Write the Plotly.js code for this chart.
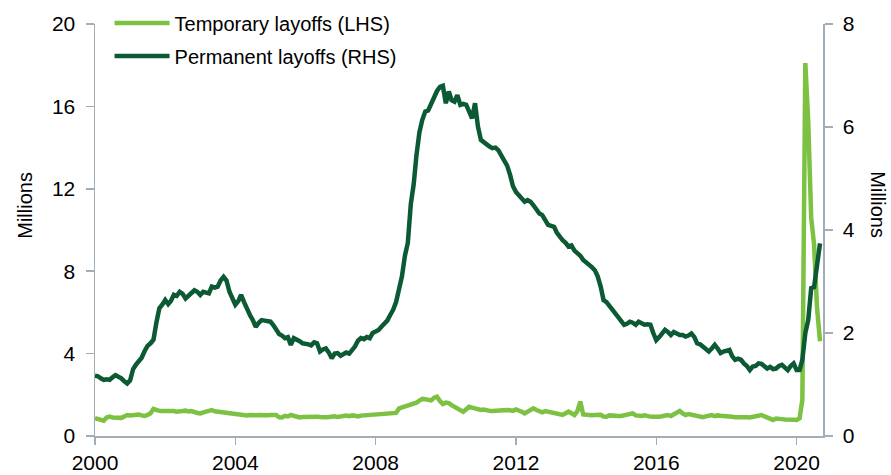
<!DOCTYPE html>
<html>
<head>
<meta charset="utf-8">
<script src="https://cdn.plot.ly/plotly-3.0.1.min.js"></script>
<style>html,body{margin:0;padding:0;background:#fff;}#chart{width:891px;height:475px;}</style>
</head>
<body>
<div id="chart"></div>
<script>
// Monthly series, Jan 2000 - Sep 2020 (millions)
const startYear = 2000;
const temporary = [
  0.86, 0.82, 0.80, 0.74, 0.90, 0.94, 0.90, 0.88, 0.86, 0.88, 0.95, 1.02,
  1.00, 1.02, 1.05, 1.04, 1.00, 0.97, 1.02, 1.10, 1.31, 1.25, 1.22, 1.21,
  1.21, 1.24, 1.20, 1.21, 1.18, 1.22, 1.21, 1.23, 1.19, 1.21, 1.15, 1.12,
  1.10, 1.12, 1.18, 1.22, 1.26, 1.20, 1.18, 1.15, 1.13, 1.12, 1.08, 1.07,
  1.05, 1.07, 1.04, 1.02, 1.00, 1.02, 1.04, 1.01, 1.02, 1.00, 1.02, 1.01,
  1.02, 1.00, 1.02, 0.91, 0.90, 0.98, 0.95, 1.02, 0.98, 0.91, 0.90, 0.92,
  0.93, 0.92, 0.91, 0.93, 0.94, 0.92, 0.94, 0.91, 0.92, 0.95, 0.96, 0.92,
  0.95, 0.97, 0.99, 0.96, 1.00, 0.98, 0.95, 0.99, 1.00, 0.97, 0.99, 1.02,
  1.00, 1.05, 1.07, 1.04, 1.08, 1.10, 1.10, 1.12, 1.34, 1.38, 1.45, 1.50,
  1.50, 1.55, 1.62, 1.72, 1.80, 1.78, 1.75, 1.73, 1.86, 1.91, 1.70, 1.55,
  1.62, 1.60, 1.50, 1.42, 1.35, 1.28, 1.18, 1.30, 1.42, 1.38, 1.34, 1.30,
  1.26, 1.28, 1.24, 1.22, 1.21, 1.23, 1.20, 1.22, 1.24, 1.26, 1.25, 1.22,
  1.29, 1.25, 1.18, 1.10, 1.20, 1.28, 1.34, 1.26, 1.18, 1.15, 1.21, 1.18,
  1.16, 1.15, 1.10, 1.05, 1.02, 1.10, 1.18, 1.10, 1.02, 1.20, 1.67, 1.05,
  1.02, 1.04, 1.01, 1.02, 1.00, 1.03, 0.95, 0.94, 1.00, 0.98, 0.94, 0.97,
  0.97, 1.00, 1.04, 1.08, 1.10, 1.00, 0.98, 0.97, 1.00, 0.95, 0.94, 0.93,
  0.91, 0.93, 0.96, 0.98, 1.02, 0.97, 1.05, 1.12, 1.21, 1.10, 1.02, 1.06,
  1.02, 0.98, 0.96, 0.94, 0.91, 0.95, 0.98, 1.02, 0.96, 1.00, 0.98, 0.98,
  0.97, 0.95, 0.93, 0.91, 0.92, 0.90, 0.92, 0.91, 0.90, 0.92, 0.95, 0.98,
  1.02, 0.95, 0.90, 0.83, 0.78, 0.85, 0.86, 0.82, 0.80, 0.78, 0.80, 0.79,
  0.78, 0.86, 1.75, 18.1, 15.3, 10.6, 9.3, 6.2, 4.6
];
const permanent = [
  1.17, 1.16, 1.12, 1.09, 1.10, 1.09, 1.14, 1.18, 1.15, 1.12, 1.06, 1.02,
  1.08, 1.30, 1.38, 1.45, 1.52, 1.65, 1.75, 1.80, 1.87, 2.20, 2.48, 2.55,
  2.64, 2.56, 2.62, 2.74, 2.72, 2.80, 2.76, 2.67, 2.72, 2.76, 2.83, 2.80,
  2.74, 2.80, 2.78, 2.77, 2.90, 2.88, 2.90, 3.02, 3.09, 3.02, 2.80, 2.66,
  2.55, 2.62, 2.74, 2.60, 2.45, 2.35, 2.25, 2.12, 2.20, 2.25, 2.24, 2.22,
  2.22, 2.15, 2.05, 1.98, 1.95, 1.90, 1.92, 1.77, 1.90, 1.88, 1.84, 1.80,
  1.80, 1.78, 1.76, 1.82, 1.80, 1.64, 1.68, 1.70, 1.62, 1.51, 1.60, 1.61,
  1.56, 1.58, 1.62, 1.60, 1.66, 1.74, 1.85, 1.90, 1.88, 1.92, 1.90, 2.00,
  2.03, 2.06, 2.12, 2.19, 2.24, 2.35, 2.45, 2.60, 2.85, 3.10, 3.50, 3.75,
  4.50, 4.90, 5.45, 5.90, 6.14, 6.30, 6.32, 6.45, 6.59, 6.70, 6.78, 6.80,
  6.46, 6.69, 6.52, 6.49, 6.62, 6.43, 6.45, 6.43, 6.30, 6.17, 6.46, 6.01,
  5.75, 5.70, 5.68, 5.62, 5.59, 5.60, 5.55, 5.45, 5.36, 5.25, 5.07, 4.85,
  4.74, 4.68, 4.60, 4.55, 4.58, 4.55, 4.48, 4.40, 4.32, 4.29, 4.18, 4.10,
  4.08, 4.06, 3.95, 3.87, 3.80, 3.75, 3.68, 3.70, 3.60, 3.55, 3.50, 3.42,
  3.38, 3.32, 3.28, 3.22, 3.10, 2.90, 2.64, 2.60, 2.52, 2.45, 2.38, 2.30,
  2.22, 2.16, 2.18, 2.22, 2.20, 2.16, 2.22, 2.18, 2.16, 2.17, 2.16, 2.00,
  1.86, 1.92, 2.00, 2.06, 2.02, 1.96, 2.02, 1.98, 1.96, 1.96, 1.93, 1.95,
  1.99, 1.92, 1.80, 1.78, 1.73, 1.70, 1.64, 1.70, 1.77, 1.70, 1.61, 1.64,
  1.66, 1.67, 1.55, 1.48, 1.50, 1.48, 1.41, 1.36, 1.28, 1.35, 1.36, 1.41,
  1.40, 1.35, 1.31, 1.34, 1.30, 1.31, 1.36, 1.38, 1.33, 1.28, 1.36, 1.41,
  1.28, 1.28, 1.48, 2.00, 2.25, 2.87, 2.89, 3.29, 3.74
];
const seriesNames = ['Temporary layoffs (LHS)', 'Permanent layoffs (RHS)'];
const leftTicks = [0, 4, 8, 12, 16, 20];
const rightTicks = [0, 2, 4, 6, 8];

function monthDate(i) {
  const y = startYear + Math.floor(i / 12);
  const m = (i % 12) + 1;
  return y + '-' + String(m).padStart(2, '0') + '-01';
}
const dates = temporary.map((_, i) => monthDate(i));

const axisColor = '#a3adb5';
const font = {family: 'Liberation Sans, Arial, sans-serif', size: 21, color: '#000'};

const traces = [
  {x: dates, y: temporary, name: seriesNames[0], type: 'scatter', mode: 'lines',
   line: {color: '#7dc142', width: 4.5}, yaxis: 'y', legendgroup: 'a'},
  {x: dates, y: permanent, name: seriesNames[1], type: 'scatter', mode: 'lines',
   line: {color: '#0b5a34', width: 4.5}, yaxis: 'y2', legendgroup: 'b'}
];

const layout = {
  width: 891, height: 475,
  margin: {l: 95, r: 68, t: 24, b: 39, autoexpand: false},
  paper_bgcolor: '#fff', plot_bgcolor: '#fff',
  font: font,
  showlegend: true,
  legend: {x: 0.02, y: 1.05, xanchor: 'left', yanchor: 'top', bgcolor: 'rgba(0,0,0,0)',
           font: {family: font.family, size: 20, color: '#000'}, traceorder: 'grouped',
           tracegroupgap: 4, itemwidth: 55},
  xaxis: {type: 'date', range: ['2000-01-01', '2020-10-02'], tick0: '2000-01-01', dtick: 'M48',
          tickformat: '%Y', showgrid: false, zeroline: false, showline: true, linecolor: axisColor,
          linewidth: 1.5, ticks: 'outside', ticklen: 7, tickcolor: axisColor, tickwidth: 1.5,
          tickfont: {family: font.family, size: 21, color: '#000'}, fixedrange: true},
  yaxis: {range: [0, 20], tickvals: leftTicks, showgrid: false, zeroline: false, showline: true,
          linecolor: axisColor, linewidth: 1.5, ticks: 'outside', ticklen: 8, tickcolor: axisColor,
          tickwidth: 1.5, tickfont: {family: font.family, size: 21, color: '#000'}, ticklabelstandoff: 6},
  yaxis2: {range: [0, 8], tickvals: rightTicks, overlaying: 'y', side: 'right', showgrid: false,
           zeroline: false, showline: true, linecolor: axisColor, linewidth: 1.5, ticks: 'outside',
           ticklen: 8, tickcolor: axisColor, tickwidth: 1.5,
           tickfont: {family: font.family, size: 21, color: '#000'}, ticklabelstandoff: 6},
  annotations: [
    {text: 'Millions', xref: 'paper', yref: 'paper', x: -0.0955, y: 0.56, xanchor: 'center', yanchor: 'middle',
     textangle: -90, showarrow: false, font: {family: font.family, size: 20, color: '#000'}},
    {text: 'Millions', xref: 'paper', yref: 'paper', x: 1.0755, y: 0.56, xanchor: 'center', yanchor: 'middle',
     textangle: 90, showarrow: false, font: {family: font.family, size: 20, color: '#000'}}
  ]
};

Plotly.newPlot('chart', traces, layout, {displayModeBar: false, staticPlot: true});
</script>
</body>
</html>
